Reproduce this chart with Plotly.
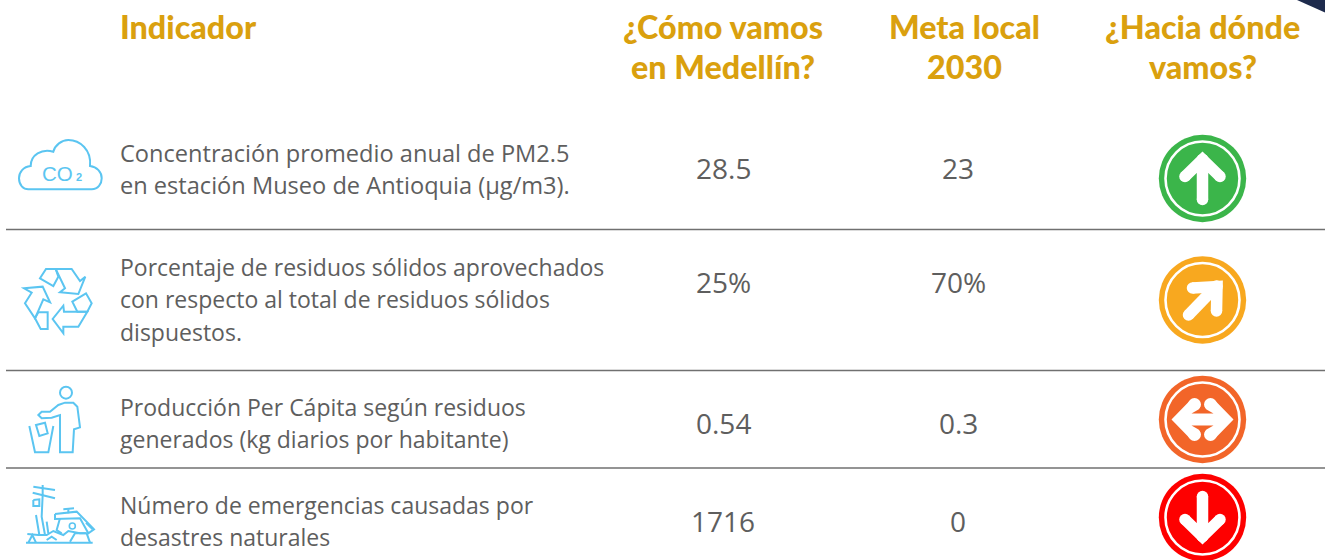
import plotly.graph_objects as go

# ---- content ----
headers = [["Indicador"], ["¿Cómo vamos", "en Medellín?"], ["Meta local", "2030"], ["¿Hacia dónde", "vamos?"]]
indicators = [
    ["Concentración promedio anual de PM2.5", "en estación Museo de Antioquia (µg/m3)."],
    ["Porcentaje de residuos sólidos aprovechados", "con respecto al total de residuos sólidos", "dispuestos."],
    ["Producción Per Cápita según residuos", "generados (kg diarios por habitante)"],
    ["Número de emergencias causadas por", "desastres naturales"],
]
current = ["28.5", "25%", "0.54", "1716"]
target = ["23", "70%", "0.3", "0"]
status_colors = ["#3BB54A", "#F8A81F", "#F26529", "#FE0000"]

# ---- layout constants ----
W, H = 1325, 560
GOLD, TEXT, BLUE, RULE = "#DAA00E", "#5E5E5E", "#5BC5F1", "#707070"
LINE_Y = [[152.5, 185], [266.5, 299, 331.5], [406.5, 439], [504.5, 537]]
LINE_SIZE = [23.6, 23, 23, 23]
VALUE_Y = [168, 282, 423, 521]
BADGE_Y = [178.5, 300, 419.5, 517.5]
RULES_Y = [229.5, 370.5, 468]
BADGE_X = 1202.5

shapes, annotations = [], []


def text(x, y, s, size, color, anchor="center", family="Open Sans", bold=False, weight=None):
    font = dict(family=family, size=size, color=color)
    if weight:
        font["weight"] = weight
    annotations.append(dict(x=x, y=y, xref="x", yref="y", text=f"<b>{s}</b>" if bold else s, showarrow=False,
                            xanchor=anchor, yanchor="middle", align="left" if anchor == "left" else "center",
                            font=font))


def circle(cx, cy, r, fill=None, line=None, width=0):
    shapes.append(dict(type="circle", xref="x", yref="y", x0=cx - r, x1=cx + r, y0=cy - r, y1=cy + r,
                       fillcolor=fill or "rgba(0,0,0,0)", line=dict(color=line or "rgba(0,0,0,0)", width=width)))


def path(d, fill=None, line=None, width=0):
    shapes.append(dict(type="path", xref="x", yref="y", path=d, fillcolor=fill or "rgba(0,0,0,0)",
                       line=dict(color=line or "rgba(0,0,0,0)", width=width)))


def poly(pts, close=False, fill=None, line=None, width=0):
    d = "M" + " L".join(f"{x:.2f},{y:.2f}" for x, y in pts) + (" Z" if close else "")
    path(d, fill, line, width)


def stroke(pts, cx, cy, width=11.5, color="white"):
    """Round-capped thick polyline relative to a centre."""
    abs_pts = [(cx + x, cy + y) for x, y in pts]
    poly(abs_pts, line=color, width=width)
    for x, y in abs_pts:
        circle(x, y, width / 2, fill=color)


def z(pts, oy):
    return [(x / 3, y / 3 + oy) for x, y in pts]


def icon_line(pts, oy, close=False, width=2):
    poly(z(pts, oy), close=close, line=BLUE, width=width)


# ---- rules ----
for y in RULES_Y:
    shapes.append(dict(type="line", xref="x", yref="y", x0=6, x1=W, y0=y, y1=y, line=dict(color=RULE, width=1.4)))

# ---- corner ----
poly([(1297, 0), (1325, 0), (1325, 12.5)], close=True, fill="#1E2B4D")

# ---- status badges ----
for c, cy in zip(status_colors, BADGE_Y):
    circle(BADGE_X, cy, 43.7, fill=c)
    circle(BADGE_X, cy, 37, line="white", width=2.6)

cx = BADGE_X
cy = BADGE_Y[0]
stroke([(0, -19), (0, 21)], cx, cy)
stroke([(-17.5, -2), (0, -19), (17.5, -2)], cx, cy)
cy = BADGE_Y[1]
stroke([(-14, 15), (14, -14)], cx, cy)
stroke([(-10, -12), (14.5, -13.5), (14, 11)], cx, cy)
cy = BADGE_Y[2]
c = status_colors[2]
poly([(cx - 31, cy), (cx - 13, cy - 18.5), (cx, cy - 10), (cx + 13, cy - 18.5), (cx + 31, cy),
      (cx + 13, cy + 18.5), (cx, cy + 10), (cx - 13, cy + 18.5)], close=True, fill="white")
for sx in (-1, 1):
    for sy in (-1, 1):
        circle(cx + sx * 8, cy + sy * 15, 6.5, fill="white")
poly([(cx, cy - 14.5), (cx - 4, cy - 10), (cx - 11, cy - 6), (cx + 11, cy - 6), (cx + 4, cy - 10)], close=True, fill=c)
poly([(cx, cy + 14.5), (cx - 4, cy + 10), (cx - 11, cy + 6), (cx + 11, cy + 6), (cx + 4, cy + 10)], close=True, fill=c)
cy = BADGE_Y[3]
stroke([(0, 19), (0, -21)], cx, cy)
stroke([(-17.5, 2), (0, 19), (17.5, 2)], cx, cy)

# ---- icons ----
# cloud
path("M28.3,189.3 L91.7,189.3 C98,189.3 101.7,184 101.7,178.3 C101.7,172 97,167 90,166 "
     "C91.7,150 80,140 68.3,140 C61.7,140 55,145 53.3,151.7 C41.7,148.3 30.7,155 30.7,166 "
     "C23.3,166.7 19,172 19,178.3 C19,185 23.3,189.3 28.3,189.3 Z", line=BLUE, width=2)
text(57, 173, "CO", 20.5, BLUE, family="Liberation Sans")
text(79, 177, "2", 11, BLUE, family="Liberation Sans", bold=True)

# recycle
oy = 120
icon_line([(120, 475), (138, 447), (167, 447), (175, 470), (160, 498)], oy, True)
icon_line([(167, 447), (215, 447), (240, 483), (256, 470), (235, 522), (180, 517), (195, 505)], oy, True)
icon_line([(217, 545), (258, 520), (275, 550), (262, 575), (232, 575)], oy, True)
icon_line([(262, 575), (235, 620), (190, 620), (190, 640), (158, 597), (190, 557), (192, 575)], oy, True)
icon_line([(72, 505), (128, 500), (150, 547), (130, 538), (105, 595), (75, 550), (95, 518)], oy, True)
icon_line([(105, 595), (115, 577), (143, 577), (143, 627), (122, 627)], oy, True)

# person and bin
oy = 370
circle(198 / 3, 68 / 3 + oy, 6, line=BLUE, width=2)
icon_line([(195, 98), (220, 98), (232, 110), (240, 172), (222, 178), (218, 247), (180, 247), (180, 135),
           (155, 143), (125, 145), (115, 135), (125, 125), (150, 125), (175, 105)], oy, True)
icon_line([(88, 168), (105, 247), (145, 247), (160, 168)], oy)
icon_line([(108, 165), (135, 158), (143, 190), (118, 198)], oy, True)

# collapsed pole and house
for seg in [
    [(78, 518), (278, 518)],
    [(128, 345), (128, 375), (125, 440), (135, 495)],
    [(100, 350), (165, 360)],
    [(98, 368), (165, 385)],
    [(108, 435), (118, 495), (135, 495)],
    [(140, 455), (145, 490)],
    [(82, 492), (115, 495), (140, 495), (160, 483), (190, 495), (205, 483), (240, 490), (258, 490)],
    [(165, 432), (230, 425), (282, 478), (265, 490), (240, 445), (165, 447), (165, 432)],
    [(180, 445), (170, 480), (185, 490)],
    [(190, 418), (222, 415)],
    [(205, 418), (205, 430)],
    [(258, 458), (278, 478)],
    [(85, 518), (97, 495), (108, 518)],
    [(210, 515), (225, 490), (260, 490), (270, 518)],
    [(140, 510), (155, 500), (170, 510)],
    [(100, 390), (118, 388), (118, 408), (100, 408), (100, 390)],
]:
    icon_line(seg, 370)
circle(217 / 3, 468 / 3 + 370, 3, line=BLUE, width=1.6)

# ---- text ----
HEAD_X = [117.5, 723, 964, 1202.5]
HEAD_Y = [26, 66]
for i, (hx, lines) in enumerate(zip(HEAD_X, headers)):
    for y, s in zip(HEAD_Y, lines):
        text(hx, y, s, 32.3, GOLD, anchor="left" if i == 0 else "center", family="Lato", weight=900)

for lines, ys, size in zip(indicators, LINE_Y, LINE_SIZE):
    for y, s in zip(ys, lines):
        text(117.5, y, s, size, TEXT, anchor="left")

for cur, tar, y in zip(current, target, VALUE_Y):
    text(723, y, cur, 28, TEXT)
    text(958, y, tar, 28, TEXT)

fig = go.Figure()
fig.update_layout(
    width=W, height=H, margin=dict(l=0, r=0, t=0, b=0), showlegend=False,
    paper_bgcolor="white", plot_bgcolor="white",
    xaxis=dict(range=[0, W], visible=False, fixedrange=True),
    yaxis=dict(range=[H, 0], visible=False, fixedrange=True),
    shapes=shapes, annotations=annotations,
)
fig.write_html("out.html", config={"displayModeBar": False},
               post_script="document.body.style.margin='0';document.body.style.overflow='hidden';")
